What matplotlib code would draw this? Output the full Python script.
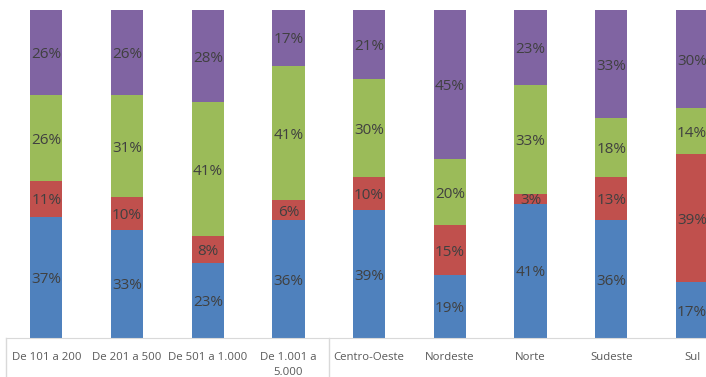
import matplotlib
matplotlib.use("Agg")
import matplotlib.pyplot as plt
import matplotlib.transforms as mtransforms
import numpy as np

plt.rcParams['font.family'] = ['Open Sans', 'DejaVu Sans']

# Categories and shares (%)
categories = ["De 101 a 200", "De 201 a 500", "De 501 a 1.000", "De 1.001 a\n5.000",
              "Centro-Oeste", "Nordeste", "Norte", "Sudeste", "Sul"]
serie_azul = [37, 33, 23, 36, 39, 19, 41, 36, 17]
serie_vermelha = [11, 10, 8, 6, 10, 15, 3, 13, 39]
serie_verde = [26, 31, 41, 41, 30, 20, 33, 18, 14]
serie_roxa = [26, 26, 28, 17, 21, 45, 23, 33, 30]

series = [serie_azul, serie_vermelha, serie_verde, serie_roxa]
colors = ['#4F81BD', '#C0504D', '#9BBB59', '#8064A2']

W, H = 706, 377
fig = plt.figure(figsize=(W / 100, H / 100), dpi=100)

# Plot area: 0% at y=338 px, 100% at y=10 px; first slot starts at x=6 px
slot = 80.7
left_px, bottom_px, top_px = 6, 338, 10
ax = fig.add_axes([left_px / W, (H - bottom_px) / H,
                   9 * slot / W, (bottom_px - top_px) / H])

data = np.array(series, dtype=float)
totals = data.sum(axis=0)
x = np.arange(len(categories))
bottom = np.zeros(len(categories))

for vals, col in zip(data, colors):
    heights = vals / totals
    ax.bar(x, heights, width=0.4, bottom=bottom, color=col, linewidth=0)
    for xi, b, h, v in zip(x, bottom, heights, vals):
        ax.annotate(f"{int(v)}%", (xi, b + h / 2), xytext=(0, -1.5),
                    textcoords='offset points', ha='center', va='center',
                    fontsize=11, color='#404040')
    bottom += heights

ax.set_xlim(-0.5, len(categories) - 0.5)
ax.set_ylim(0, 1)
ax.set_yticks([])
ax.set_xticks(x)
ax.set_xticklabels(categories, fontsize=8.2, color='#595959', linespacing=1.55)
ax.tick_params(axis='x', length=0, pad=10)

for side in ['top', 'left', 'right']:
    ax.spines[side].set_visible(False)
ax.spines['bottom'].set_color('#D9D9D9')

# Group separators below the axis
trans = mtransforms.blended_transform_factory(ax.transData, ax.transAxes)
for xs in [-0.5, 3.5]:
    ax.plot([xs, xs], [0, -0.2], transform=trans, color='#D9D9D9',
            linewidth=1, clip_on=False)

fig.savefig("out.png", dpi=100)
